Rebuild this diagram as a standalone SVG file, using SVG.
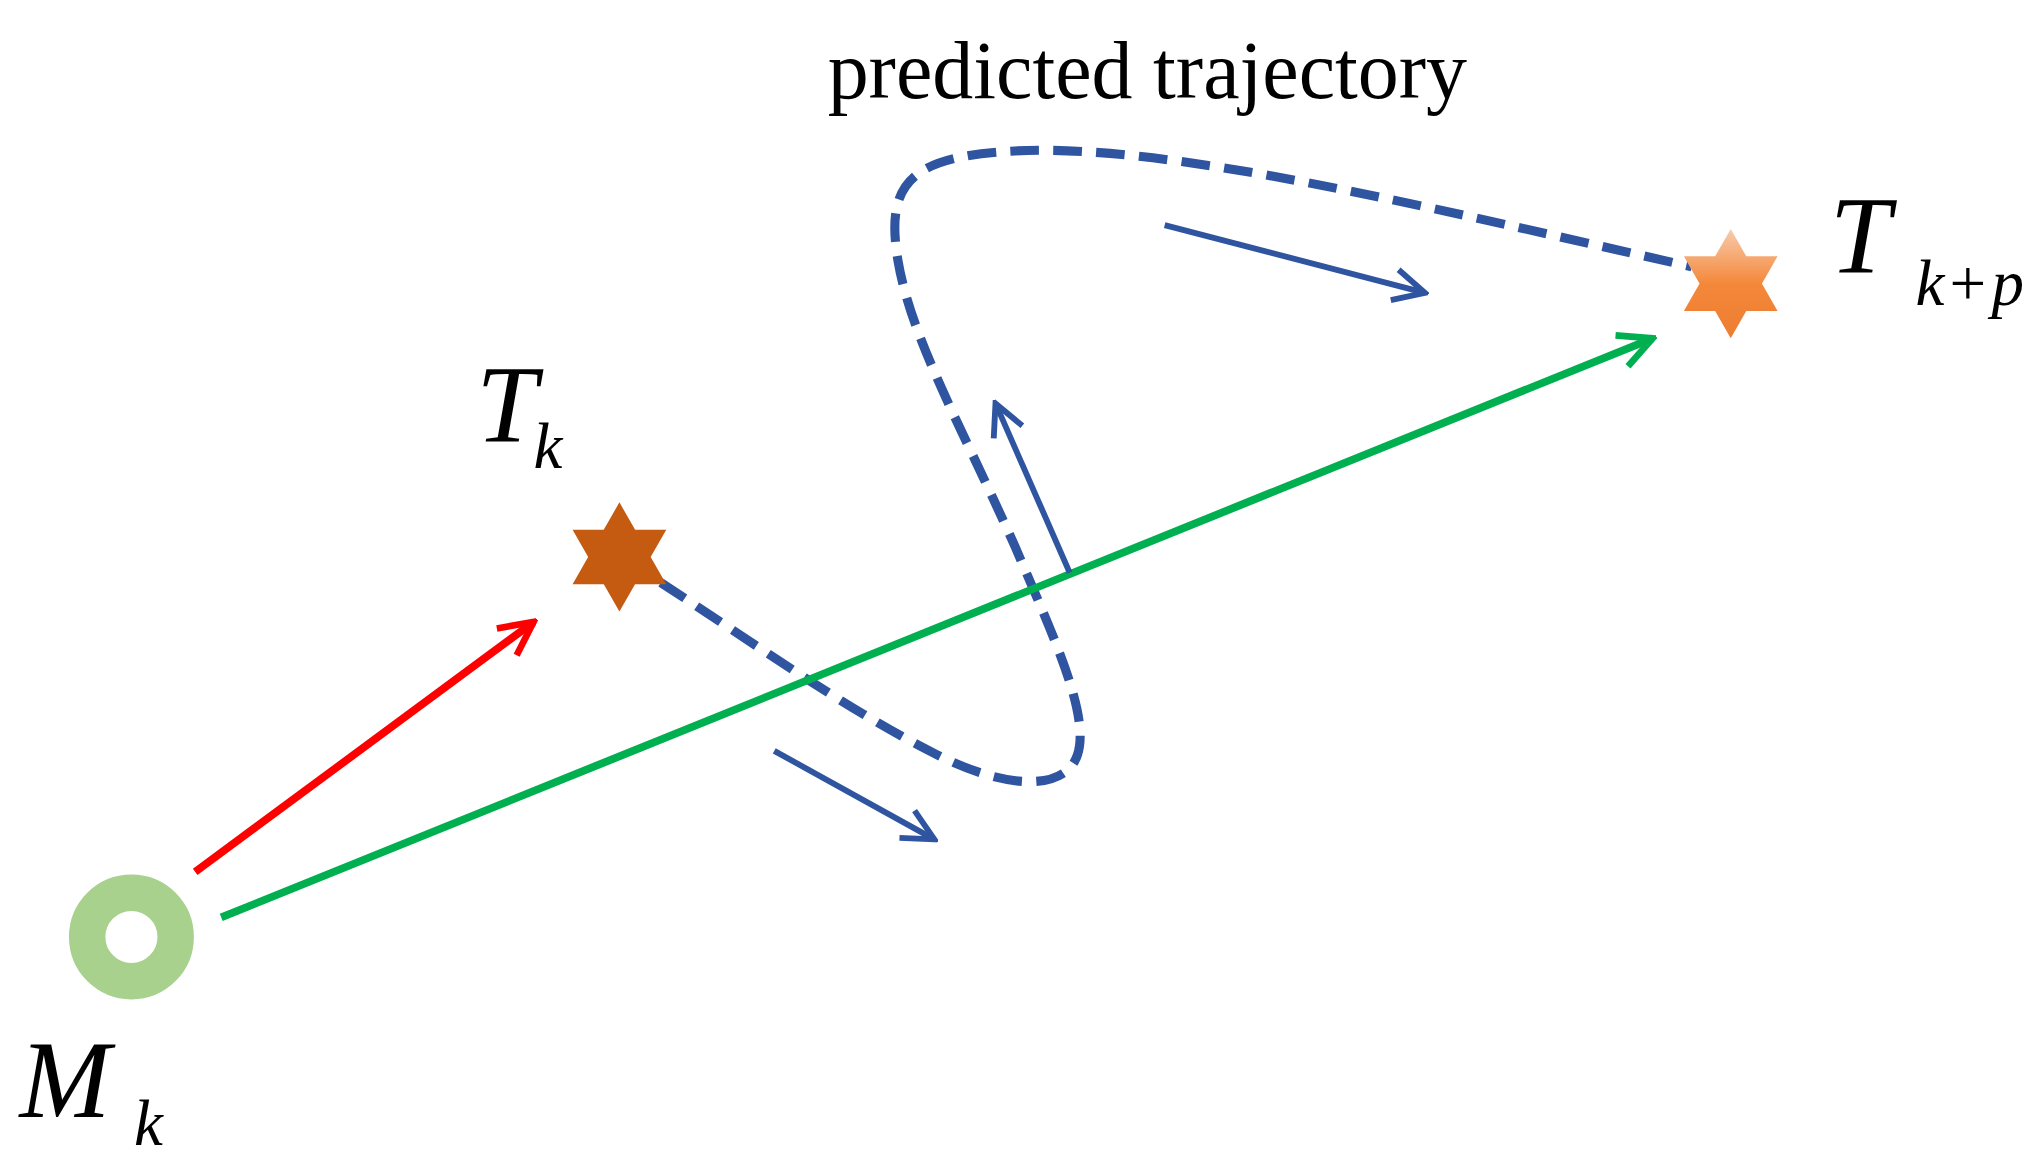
<svg xmlns="http://www.w3.org/2000/svg" width="2030" height="1171" viewBox="0 0 2030 1171">
<defs>
<style>
.t{font-family:"Liberation Serif",serif;font-style:italic;fill:#000}
.b{fill:none;stroke:#2f55a0;stroke-width:4.5}
</style>
<marker id="ab" viewBox="0 0 20 20" refX="18" refY="10" markerWidth="30" markerHeight="30" markerUnits="userSpaceOnUse" orient="auto"><path d="M2,2 L18,10 L2,18" fill="none" stroke="#2f55a0" stroke-width="3"/></marker>
<marker id="ar" viewBox="0 0 20 20" refX="18" refY="10" markerWidth="32" markerHeight="32" markerUnits="userSpaceOnUse" orient="auto"><path d="M2,2 L18,10 L2,18" fill="none" stroke="#ff0000" stroke-width="3.2"/></marker>
<marker id="ag" viewBox="0 0 20 20" refX="18" refY="10" markerWidth="32" markerHeight="32" markerUnits="userSpaceOnUse" orient="auto"><path d="M2,2 L18,10 L2,18" fill="none" stroke="#00b050" stroke-width="3.2"/></marker>
<linearGradient id="og" x1="0" y1="0" x2="0" y2="1"><stop offset="0" stop-color="#f8cbad"/><stop offset="0.5" stop-color="#f4883a"/><stop offset="1" stop-color="#ed7d31"/></linearGradient>
</defs>
<g transform="scale(1.3013)">
<g id="connectors">
<path d="M480,430 C560,480 640,540 720,580 C780,610 820,605 828,580 C838,550 810,490 780,420 C740,330 700,260 690,200 C680,140 700,120 780,116 C900,110 1100,160 1300,205" fill="none" stroke="#2f55a0" stroke-width="7" stroke-dasharray="22,11"/>
<line x1="150" y1="670" x2="410" y2="478" stroke="#ff0000" stroke-width="6" marker-end="url(#ar)"/>
<line x1="170" y1="705" x2="1270" y2="260" stroke="#00b050" stroke-width="6" marker-end="url(#ag)"/>
<line class="b" x1="595" y1="577" x2="718" y2="645" marker-end="url(#ab)"/>
<line class="b" x1="822" y1="440" x2="765" y2="310" marker-end="url(#ab)"/>
<line class="b" x1="895" y1="173" x2="1095" y2="225" marker-end="url(#ab)"/>
</g>
<g id="Mk">
<circle cx="101" cy="720" r="34" fill="none" stroke="#a9d18e" stroke-width="28"/>
<text class="t" x="15" y="858" font-size="84">M</text>
<text class="t" x="103" y="880" font-size="50">k</text>
</g>
<g id="Tk">
<path d="M476,386 L512,449 L440,449 Z M476,470 L440,407 L512,407 Z" fill="#c55a11"/>
<text class="t" x="366" y="340" font-size="84">T</text>
<text class="t" x="410" y="360" font-size="50">k</text>
</g>
<g id="Tkp">
<path d="M1330,176 L1366,239 L1294,239 Z M1330,260 L1294,197 L1366,197 Z" fill="url(#og)"/>
<text class="t" x="1406" y="210" font-size="84">T</text>
<text class="t" x="1472" y="234" font-size="50">k<tspan font-style="normal" dx="4">+</tspan><tspan dx="4">p</tspan></text>
</g>
<g id="label">
<text x="636" y="75" font-family="Liberation Serif,serif" font-size="63">predicted trajectory</text>
</g>
</g>
</svg>
